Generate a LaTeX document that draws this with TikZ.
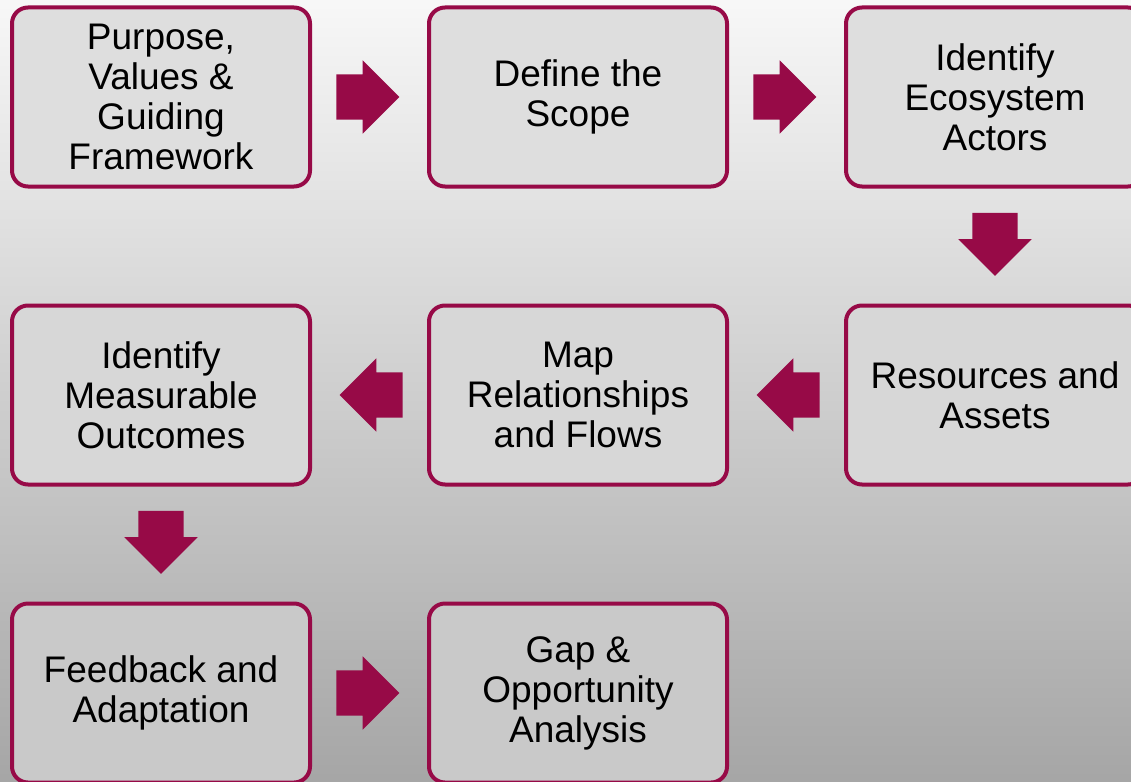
\documentclass[tikz,border=0pt]{standalone}
\usepackage{fontspec}
\setmainfont{Liberation Sans}
\usetikzlibrary{positioning, calc, shapes.arrows}

\definecolor{plum}{HTML}{970A47}
\definecolor{rowone}{HTML}{DEDEDE}
\definecolor{rowtwo}{HTML}{D7D7D7}
\definecolor{rowthree}{HTML}{C9C9C9}

\begin{document}
\begin{tikzpicture}[x=1pt, y=1pt, node distance=115pt,
	stage/.style={draw=plum, line width=4pt, rounded corners=16pt,
		minimum width=298pt, minimum height=179pt, inner sep=0pt,
		align=center, font=\fontsize{37}{40}\selectfont},
	flow/.style={single arrow, fill=plum, draw=none, inner xsep=0pt, inner ysep=22.5pt,
		minimum height=63pt, single arrow head extend=14pt, rotate=#1, xshift=-13pt},
	flow/.default=0]
	% page and background
	\useasboundingbox (0,0) rectangle (1131,-781);
	\shade [top color=white!97!black, bottom color=white!65!black] (0,0) rectangle (1131,-781);
	% first row
	\node (purpose) [stage, fill=rowone] at (161,-97) {Purpose,\\Values \&\\Guiding\\Framework};
	\node (scope) [stage, fill=rowone, right=of purpose] {Define the\\Scope};
	\node (actors) [stage, fill=rowone, right=of scope] {Identify\\Ecosystem\\Actors};
	% second row
	\node (assets) [stage, fill=rowtwo, below=of actors] {Resources and\\Assets};
	\node (flows) [stage, fill=rowtwo, left=of assets] {Map\\Relationships\\and Flows};
	\node (outcomes) [stage, fill=rowtwo, left=of flows] {Identify\\Measurable\\Outcomes};
	% third row
	\node (feedback) [stage, fill=rowthree, below=of outcomes] {Feedback and\\Adaptation};
	\node (gap) [stage, fill=rowthree, right=of feedback] {Gap \&\\Opportunity\\Analysis};
	% block arrows
	\node (a1) [flow] at ($(purpose.east)!0.5!(scope.west)$) {};
	\node (a2) [flow] at ($(scope.east)!0.5!(actors.west)$) {};
	\node (a3) [flow=-90] at ($(actors.south)!0.5!(assets.north)$) {};
	\node (a4) [flow=180] at ($(assets.west)!0.5!(flows.east)$) {};
	\node (a5) [flow=180] at ($(flows.west)!0.5!(outcomes.east)$) {};
	\node (a6) [flow=-90] at ($(outcomes.south)!0.5!(feedback.north)$) {};
	\node (a7) [flow] at ($(feedback.east)!0.5!(gap.west)$) {};
\end{tikzpicture}
\end{document}
